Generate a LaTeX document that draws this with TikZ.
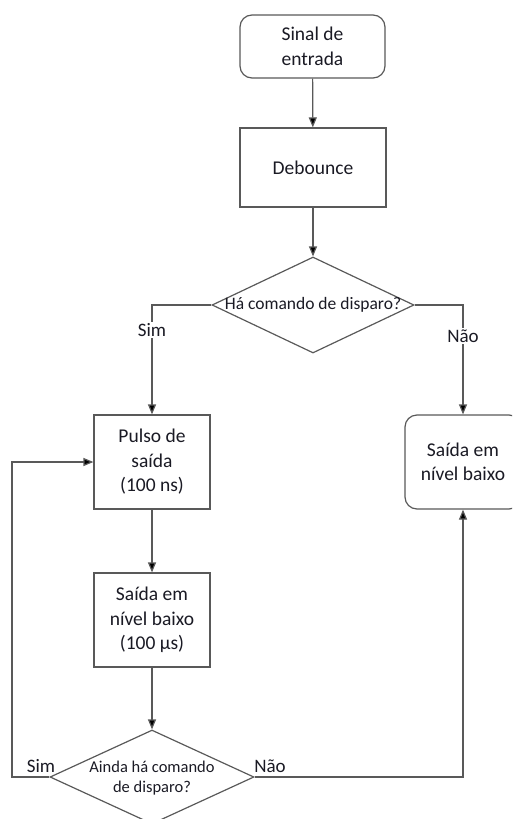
\documentclass[tikz,border=0pt]{standalone}
\usepackage{fontspec}
\setmainfont{Carlito}
\usetikzlibrary{arrows.meta,shapes.geometric}
\definecolor{linegray}{HTML}{595959}
\definecolor{txt}{HTML}{1A1A24}
\begin{document}
\begin{tikzpicture}[x=1pt,y=-1pt,
  box/.style={draw=linegray,line width=1.2pt,fill=white,inner sep=0pt,text=txt,align=center,
    font=\fontsize{19.5}{24.5}\selectfont},
  rbox/.style={box,rounded corners=12pt},
  dia/.style={draw=linegray,line width=1.2pt,diamond,inner sep=0pt},
  dtext/.style={text=txt,align=center,inner sep=0pt},
  conn/.style={draw=linegray,line width=1.2pt,-{Triangle[length=10pt,width=8pt,fill=black]}},
  plain/.style={draw=linegray,line width=1.2pt},
  lbl/.style={fill=white,text=txt,inner sep=1.5pt,font=\fontsize{19}{22}\selectfont}]
\useasboundingbox (0,0) rectangle (512,819);
\clip (0,0) rectangle (512,819);
\node[rbox,minimum width=145pt,minimum height=63pt] (start) at (312.5,46.5) {Sinal de\\entrada};
\node[box,minimum width=146pt,minimum height=79pt] (deb) at (313,167.5) {Debounce};
\node[dia,minimum width=202pt,minimum height=96pt] (d1) at (313,305) {};
\node[dtext,font=\fontsize{17.5}{20}\selectfont] (d1t) at (d1.center) {Há comando de disparo?};
\node[box,minimum width=116pt,minimum height=94pt] (pulso) at (152,462) {Pulso de\\saída\\(100 ns)};
\node[box,minimum width=116pt,minimum height=94pt] (low) at (152,620) {Saída em\\nível baixo\\(100 µs)};
\node[dia,minimum width=204pt,minimum height=94pt] (d2) at (152,777) {};
\node[dtext,font=\fontsize{16.5}{19.5}\selectfont] (d2t) at (152,778) {Ainda há comando\\de disparo?};
\node[rbox,minimum width=116pt,minimum height=94pt] (right) at (463,462) {Saída em\\nível baixo};
\coordinate (loopA) at (12,777);
\coordinate (loopB) at (12,462);

\draw[conn] (start) -- (deb);
\draw[conn] (deb) -- (d1);
\draw[conn] (d1.west) -| (pulso.north);
\draw[conn] (d1.east) -| (right.north);
\draw[conn] (pulso) -- (low);
\draw[conn] (low) -- (d2);
\draw[conn] (d2.west) -- (loopA) -- (loopB) -- (pulso.west);
\draw[conn] (d2.east) -| (right.south);

\node[lbl] (simA) at (152,330) {Sim};
\node[lbl] (naoA) at (463,336) {Não};
\node[lbl,fill=none] (simB) at (41,766) {Sim};
\node[lbl,fill=none] (naoB) at (270,766) {Não};
\end{tikzpicture}
\end{document}
